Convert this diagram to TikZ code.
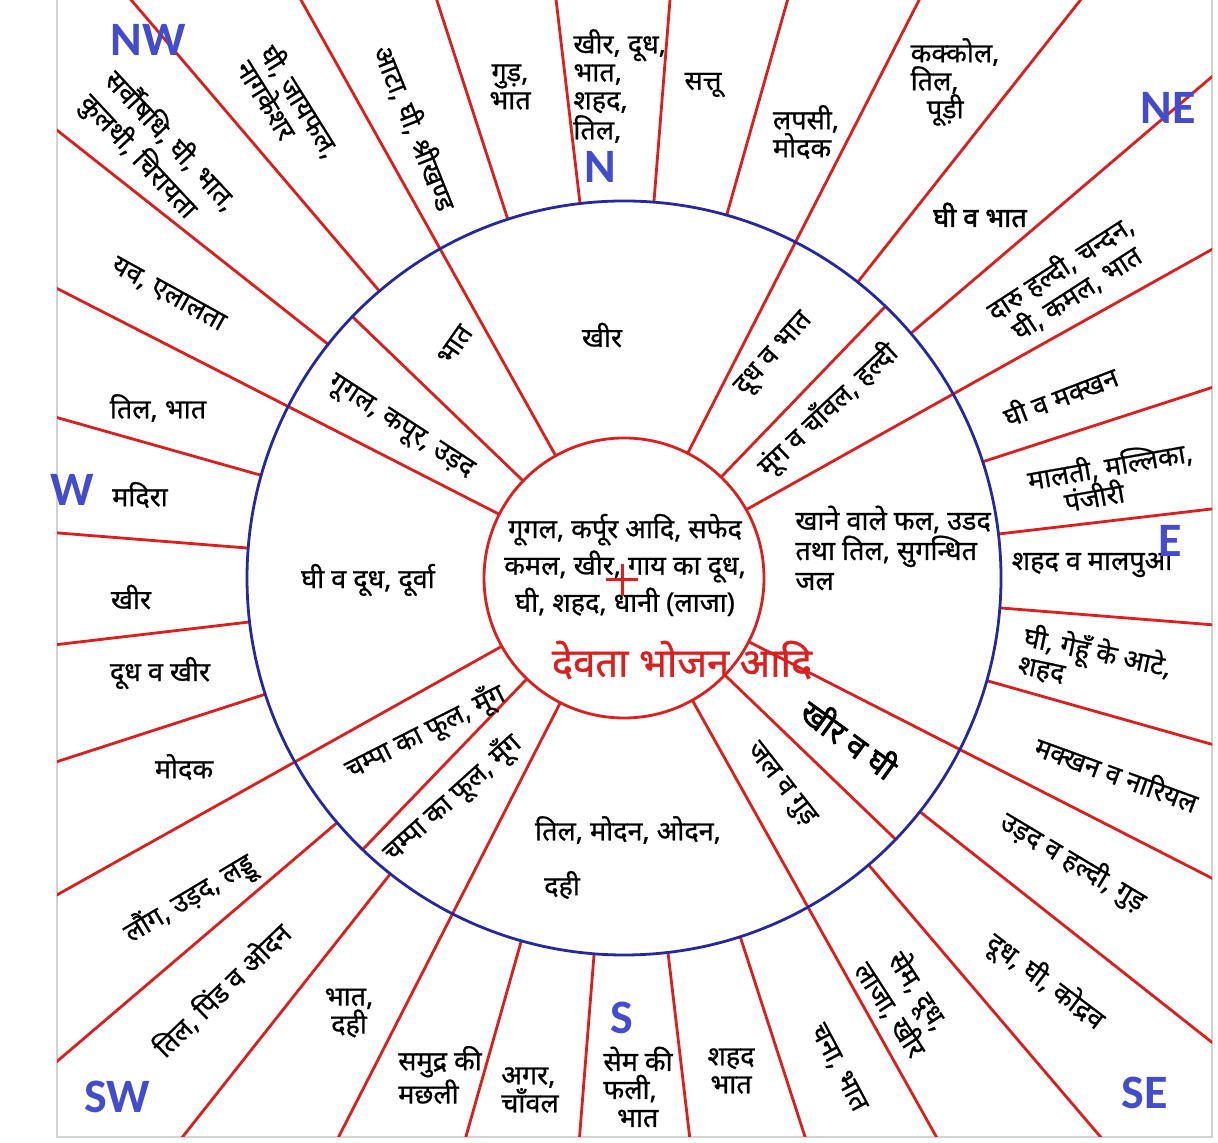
\documentclass[tikz,border=0pt]{standalone}
\usepackage{fontspec}
\newfontfamily\hindi{Noto Sans}[Script=Devanagari, FakeBold=0.8]
\newfontfamily\hindibold{Noto Sans}[Script=Devanagari, FakeBold=2.2]
\newfontfamily\dirfont{Carlito}
\definecolor{spokered}{RGB}{220,30,30}
\definecolor{ringblue}{RGB}{38,40,160}
\definecolor{dirblue}{RGB}{66,76,204}

\begin{document}
\begin{tikzpicture}[x=0.5pt, y=0.5pt,
  spoke/.style={draw=spokered, line width=1.4pt},
  food/.style={font=\hindi\fontsize{13.5}{14}\selectfont, inner sep=0pt, align=center},
  dir/.style={font=\dirfont\bfseries\fontsize{24}{24}\selectfont, text=dirblue, inner sep=0pt}]

  \useasboundingbox (0,0) rectangle (1218,1143);

  % paper edge
  \draw[gray!35, line width=0.6pt] (57,1143) -- (57,6) -- (1212,6) -- (1212,1143);

  % spokes of the outer ring, cut at the paper edge
  \begin{scope}
    \clip (57,6) rectangle (1212,1143);
    \foreach \k in {0,...,31}
      \draw[spoke, shift={(624,565)}] ({6.7+11.25*\k}:377) -- ({6.7+11.25*\k}:1000);
  \end{scope}

  % spokes of the middle ring
  \foreach \a in {29.2,46.1,62.95,119.2,136.1,152.95,209.2,226.1,242.95,299.2,316.1,332.95}
    \draw[spoke, shift={(624,565)}] (\a:140) -- (\a:377);

  % the two rings
  \draw[ringblue, line width=1.4pt] (624,565) circle (377);
  \draw[spokered, line width=1.4pt] (624,565) circle (140);

  % the centre
  \node[food] (c1) at (625,578) {गूगल, कर्पूर आदि, सफेद\\[1.5pt]कमल, खीर, गाय का दूध,\\[1.5pt]घी, शहद, धानी (लाजा)};
  \draw[spokered, line width=1.5pt] (606,563) -- (638,563) (622,547) -- (622,579);
  \node[food, text=spokered, font=\hindi\fontsize{20}{22}\selectfont] (c2) at (682,483) {देवता भोजन आदि};

  % the middle ring
  \node[food, align=left, anchor=west] (m1) at (795,595) {खाने वाले फल, उडद\\[1pt]तथा तिल, सुगन्धित\\[1pt]जल};
  \node[food, rotate=43] (m2) at (828,733) {मूंग व चाँवल, हल्दी};
  \node[food, rotate=48] (m3) at (775,788) {दूध व भात};
  \node[food] (m4) at (602,808) {खीर};
  \node[food, rotate=55] (m5) at (455,798) {भात};
  \node[food, rotate=-33] (m6) at (400,715) {गूगल, कपूर, उड़द};
  \node[food] (m7) at (368,563) {घी व दूध, दूर्वा};
  \node[food, rotate=27] (m8) at (425,411) {चम्पा का फूल, मूँग};
  \node[food, rotate=42] (m9) at (452,345) {चम्पा का फूल, मूँग};
  \node[food] (m10) at (628,313) {तिल, मोदन, ओदन,};
  \node[food] (m11) at (562,258) {दही};
  \node[food, rotate=-52] (m12) at (780,358) {जल व गुड़};
  \node[food, rotate=-36, font=\hindibold\fontsize{16}{18}\selectfont] (m13) at (850,405) {खीर व घी};

  % the outer ring
  \node[food] (o1) at (1092,578) {शहद व मालपुआ};
  \node[food, rotate=10, align=left] (o2) at (1112,665) {मालती, मल्लिका,\\\hspace*{1.2em}पंजीरी};
  \node[food, rotate=21] (o3) at (1060,748) {घी व मक्खन};
  \node[food, rotate=33] (o4) at (1068,863) {दारु हल्दी, चन्दन,\\घी, कमल, भात};
  \node[food, font=\hindibold\fontsize{13.5}{14}\selectfont] (o5) at (980,928) {घी व भात};
  \node[food, align=left] (o6) at (955,1061) {कक्कोल,\\तिल,\\\hspace*{0.6em}पूड़ी};
  \node[food, align=left] (o7) at (806,1011) {लपसी,\\मोदक};
  \node[food] (o8) at (703,1058) {सत्तू};
  \node[food, align=left, anchor=west] (o9) at (573,1057) {खीर, दूध,\\भात,\\शहद,\\तिल,};
  \node[food] (o10) at (510,1056) {गुड़,\\भात};
  \node[food, rotate=-68] (o11) at (415,1015) {आटा, घी, श्रीखण्ड};
  \node[food, rotate=-58, align=left] (o12) at (290,1035) {घी, जायफल,\\नागकेशर};
  \node[food, rotate=-47, align=left] (o13) at (158,990) {सर्वौषधि, घी, भात,\\[3pt]कुलथी, चिरायता};
  \node[food, rotate=-29] (o14) at (168,848) {यव, एलालता};
  \node[food] (o15) at (158,735) {तिल, भात};
  \node[food] (o16) at (140,648) {मदिरा};
  \node[food] (o17) at (131,546) {खीर};
  \node[food] (o18) at (160,470) {दूध व खीर};
  \node[food] (o19) at (184,376) {मोदक};
  \node[food, rotate=31] (o20) at (190,243) {लौंग, उड़द, लड्डू};
  \node[food, rotate=44] (o21) at (222,153) {तिल, पिंड व ओदन};
  \node[food] (o22) at (349,130) {भात,\\दही};
  \node[food, align=left] (o23) at (440,68) {समुद्र की\\मछली};
  \node[food, align=left] (o24) at (530,53) {अगर,\\चाँवल};
  \node[food, align=left] (o25) at (638,56) {सेम की\\फली,\\\hspace*{0.5em}भात};
  \node[food] (o26) at (731,72) {शहद\\भात};
  \node[food, rotate=-62] (o27) at (838,75) {चना, भात};
  \node[food, rotate=-57] (o28) at (905,143) {सेम, दूध,\\लाजा, खीर};
  \node[food, rotate=-37] (o29) at (1045,161) {दूध, घी, कोद्रव};
  \node[food, rotate=-31] (o30) at (1073,281) {उड़द व हल्दी, गुड़};
  \node[food, rotate=-20] (o31) at (1117,370) {मक्खन व नारियल};
  \node[food, rotate=-12, align=left] (o32) at (1095,478) {घी, गेहूँ के आटे,\\शहद};

  % the directions
  \node[dir] (nw) at (148,1103) {NW};
  \node[dir] (n) at (600,976) {N};
  \node[dir] (ne) at (1168,1035) {NE};
  \node[dir] (w) at (72,653) {W};
  \node[dir] (e) at (1170,602) {E};
  \node[dir] (sw) at (117,46) {SW};
  \node[dir] (s) at (622,125) {S};
  \node[dir] (se) at (1145,50) {SE};
\end{tikzpicture}
\end{document}
